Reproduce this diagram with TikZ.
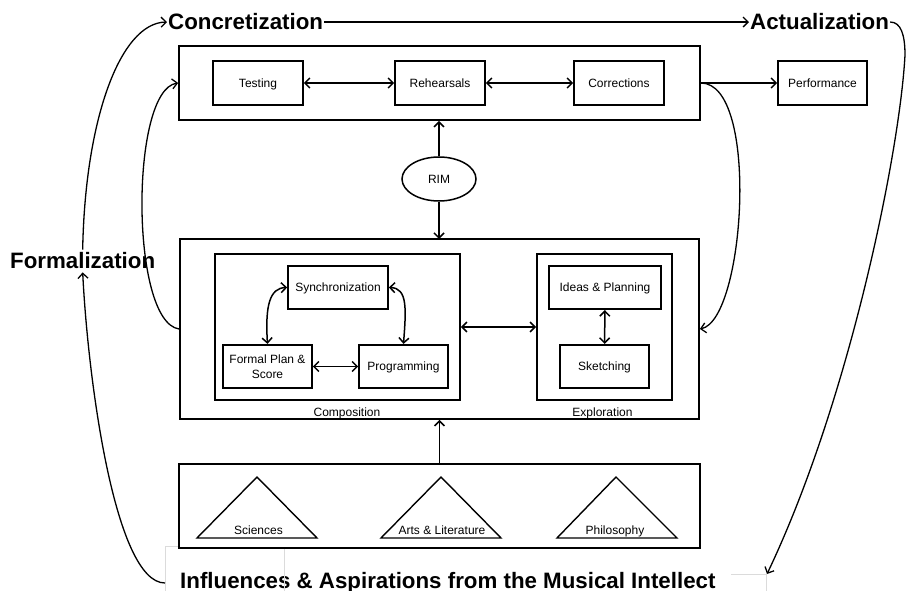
\documentclass[tikz,border=0pt]{standalone}
\usepackage{fontspec}
\setmainfont{Liberation Sans}
\usetikzlibrary{arrows.meta,shapes.geometric}

\begin{document}
\begin{tikzpicture}[x=1pt,y=-1pt,
  >={Straight Barb[length=5pt,width=10pt]},
  frame/.style={draw,line width=1.8pt,inner sep=0pt},
  stepbox/.style={draw,line width=1.7pt,inner sep=0pt,minimum height=43.5pt,
    text height=8.6pt,text depth=0pt,
    align=center,font=\fontsize{12}{14}\selectfont},
  small/.style={inner sep=0pt,font=\fontsize{12}{14}\selectfont},
  stage/.style={inner sep=1pt,font=\fontsize{22.3}{26}\selectfont\bfseries},
  link/.style={line width=1.5pt},
  flow/.style={line width=1.3pt},
  tri/.style={draw,line width=1.4pt,line join=miter},
  ghost/.style={draw=black!14,line width=0.6pt}
]
\useasboundingbox (0,0) rectangle (906,591);

% stage headings
\node[stage,anchor=base west] (conc) at (167,30) {Concretization};
\node[stage,anchor=base west] (act) at (749,30) {Actualization};
\node[stage,anchor=base west,inner sep=3pt] (form) at (7,269) {Formalization};
\node[stage,anchor=base west,inner sep=0pt] (infl) at (180,588) {Influences \& Aspirations from the Musical Intellect};
\coordinate (inflL) at (165,583);
\coordinate (inflR) at (767,574);

% faint text-box edges around the bottom heading
\draw[ghost] (165,591) -- (165,546) -- (179,546);
\draw[ghost] (284,548) -- (284,591);
\draw[ghost] (731,574) -- (766,574) -- (766,591);

% concretization stage
\node[frame,minimum width=521pt,minimum height=74pt] (top) at (439.5,83) {};
\node[stepbox,minimum width=90pt] (testing) at (258,83) {Testing};
\node[stepbox,minimum width=90pt] (rehearsals) at (440,83) {Rehearsals};
\node[stepbox,minimum width=90pt] (corrections) at (619,83) {Corrections};
\node[stepbox,minimum width=89pt] (performance) at (822.5,83) {Performance};

\draw[link,<->] (testing) -- (rehearsals);
\draw[link,<->] (rehearsals) -- (corrections);
\draw[link,->] (top.east) -- (performance.west);

% RIM
\node[draw,line width=1.5pt,ellipse,minimum width=74pt,minimum height=44pt,inner sep=0pt,
  text height=8.6pt,text depth=0pt,
  font=\fontsize{12}{14}\selectfont] (rim) at (439,179) {RIM};
\draw[link,->] (rim.north) -- (rim.north |- top.south);
\draw[link,->] (rim.south) -- (rim.south |- 0,239);

% formalization stage
\node[frame,minimum width=519pt,minimum height=180pt] (mid) at (439.5,329) {};
\node[frame,minimum width=245pt,minimum height=146pt] (comp) at (337.5,327) {};
\node[frame,minimum width=135pt,minimum height=146pt] (expl) at (604.5,327) {};
\node[small,anchor=base] (complabel) at (347,416) {Composition};
\node[small,anchor=base] (expllabel) at (602.5,416) {Exploration};

\node[stepbox,minimum width=100pt] (sync) at (338,287.5) {Synchronization};
\node[stepbox,minimum width=89pt,text height=24pt] (formal) at (267.5,366.5) {Formal Plan \&\\[1pt] Score};
\node[stepbox,minimum width=89pt] (prog) at (403.5,366.5) {Programming};
\node[stepbox,minimum width=112pt] (ideas) at (605,287.5) {Ideas \& Planning};
\node[stepbox,minimum width=89pt] (sketch) at (604.5,366.5) {Sketching};

\draw[link,<->] (sync.west) .. controls (270,288) and (265,305) .. (formal.north);
\draw[link,<->] (sync.east) .. controls (408,288) and (406,310) .. (prog.north);
\draw[link,<->] (formal) -- (prog);
\draw[link,<->] (ideas) -- (sketch);
\draw[link,<->] (comp) -- (expl);

% influences
\node[frame,minimum width=521pt,minimum height=84pt] (bot) at (439.5,506) {};
\draw[tri] (197,538) -- (257,477) -- (317,538) -- cycle;
\draw[tri] (381,538) -- (441,477) -- (501,538) -- cycle;
\draw[tri] (557,538) -- (616,477) -- (677,538) -- cycle;
\node[small,anchor=base] (sciences) at (258.5,534) {Sciences};
\node[small,anchor=base] (arts) at (442,534) {Arts \& Literature};
\node[small,anchor=base] (philosophy) at (615,534) {Philosophy};
\draw[link,->] (bot.north) -- (mid.south);

% feedback between the two stages
\draw[flow,->] (mid.west) .. controls (130,322) and (130,90) .. (top.west);
\draw[flow,->] (top.east) .. controls (760,83) and (745,320) .. (mid.east);

% outer cycle
\draw[flow,->] (inflL) .. controls (115,583) and (88,380) .. (form.south);
\draw[flow,->] (form.north) .. controls (85,120) and (120,23) .. (conc.west);
\draw[flow,->] (conc.east) -- (act.west);
\draw[flow,->] (act.east) .. controls (901,22) and (905,35) .. (905,55)
  .. controls (900,150) and (850,400) .. (inflR);
\end{tikzpicture}
\end{document}
